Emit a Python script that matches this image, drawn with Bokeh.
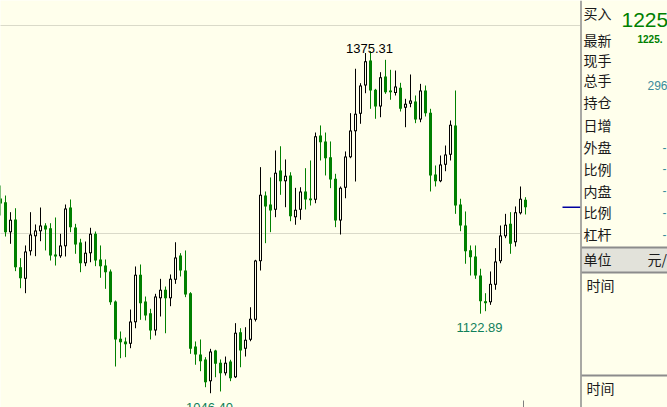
from bokeh.plotting import figure
from bokeh.models import Range1d, ColumnDataSource
from bokeh.embed import file_html
from bokeh.resources import INLINE
from bokeh.core.properties import value

# ---------------- data ----------------
opens = [1233.7, 1230.1, 1201.3, 1213.5, 1167.6, 1156.4, 1183.0, 1197.4, 1202.2, 1207.7,
         1205.1, 1179.8, 1178.2, 1187.8, 1225.0, 1205.8, 1191.3, 1171.4, 1181.1, 1199.7,
         1175.0, 1169.2, 1163.5, 1134.6, 1098.8, 1096.2, 1093.9, 1114.7, 1160.3, 1134.6,
         1123.4, 1106.7, 1137.8, 1145.9, 1137.8, 1155.5, 1178.9, 1164.4, 1142.6, 1091.4,
         1083.7, 1078.9, 1058.0, 1087.5, 1075.7, 1065.7, 1076.9, 1061.8, 1105.1, 1089.1,
         1097.8, 1117.0, 1173.4, 1236.5, 1227.9, 1222.8, 1260.6, 1250.3, 1255.8, 1215.7,
         1222.8, 1240.4, 1233.7, 1232.4, 1294.2, 1288.5, 1273.4, 1252.6, 1212.5, 1243.9,
         1273.4, 1298.4, 1315.1, 1342.3, 1366.3, 1338.2, 1322.1, 1351.0, 1337.5, 1335.1,
         1340.1, 1320.9, 1324.7, 1326.9, 1309.6, 1337.5, 1316.1, 1256.7, 1250.3, 1266.1,
         1275.7, 1303.9, 1227.9, 1207.7, 1184.0, 1177.9, 1159.6, 1134.9, 1133.9, 1150.7,
         1173.4, 1197.4, 1209.3, 1191.6, 1219.5, 1232.4]
highs = [1246.2, 1236.5, 1220.5, 1224.3, 1176.3, 1188.5, 1220.5, 1208.7, 1225.0, 1209.9,
         1209.9, 1215.4, 1199.7, 1227.9, 1232.7, 1209.3, 1194.9, 1192.3, 1205.5, 1201.9,
         1188.5, 1175.0, 1165.4, 1135.6, 1105.8, 1100.0, 1126.9, 1168.3, 1170.2, 1139.4,
         1127.6, 1142.0, 1156.4, 1149.0, 1160.6, 1191.6, 1181.1, 1183.7, 1143.6, 1096.2,
         1098.1, 1081.1, 1089.1, 1088.2, 1078.9, 1081.7, 1078.6, 1113.8, 1108.9, 1109.9,
         1129.1, 1174.7, 1263.8, 1240.4, 1253.9, 1279.8, 1283.9, 1271.2, 1258.9, 1243.9,
         1244.5, 1262.8, 1270.2, 1297.1, 1303.9, 1297.1, 1288.5, 1257.4, 1245.2, 1278.9,
         1315.7, 1358.4, 1344.5, 1373.5, 1375.31, 1339.1, 1355.1, 1367.0, 1357.4, 1356.7,
         1344.9, 1329.5, 1352.9, 1332.7, 1343.9, 1342.3, 1319.9, 1265.4, 1275.0, 1284.6,
         1308.7, 1337.5, 1233.4, 1221.2, 1188.5, 1188.5, 1166.1, 1142.6, 1163.5, 1185.9,
         1207.7, 1218.9, 1220.5, 1226.0, 1245.2, 1234.9]
lows = [1217.3, 1197.1, 1190.1, 1163.8, 1147.4, 1142.6, 1178.9, 1178.2, 1192.6, 1183.7,
        1174.0, 1169.2, 1176.6, 1177.9, 1201.3, 1180.5, 1162.8, 1168.6, 1172.4, 1168.6,
        1157.4, 1146.8, 1131.4, 1072.1, 1080.1, 1081.1, 1089.7, 1108.9, 1117.0, 1116.4,
        1098.1, 1101.9, 1120.2, 1104.1, 1130.1, 1151.6, 1158.7, 1138.8, 1084.3, 1073.8,
        1067.6, 1052.2, 1046.40, 1061.8, 1048.1, 1063.5, 1058.0, 1061.0, 1071.4, 1081.7,
        1096.4, 1115.4, 1164.4, 1190.7, 1201.3, 1215.7, 1237.2, 1225.3, 1211.8, 1208.4,
        1213.2, 1223.1, 1226.9, 1229.1, 1270.2, 1255.8, 1243.6, 1206.1, 1199.0, 1233.9,
        1272.4, 1250.0, 1305.5, 1334.9, 1319.9, 1310.3, 1311.8, 1334.3, 1328.6, 1332.7,
        1317.3, 1302.2, 1321.4, 1306.1, 1307.0, 1312.5, 1240.4, 1245.2, 1249.3, 1259.9,
        1270.2, 1218.9, 1202.2, 1170.9, 1159.6, 1156.4, 1122.89, 1125.3, 1131.4, 1145.9,
        1171.4, 1195.5, 1180.5, 1187.5, 1218.3, 1218.3]
closes = [1228.9, 1201.3, 1213.2, 1167.6, 1157.0, 1182.7, 1199.0, 1202.9, 1207.7, 1203.9,
          1178.9, 1177.9, 1188.5, 1224.0, 1206.1, 1189.4, 1171.4, 1181.4, 1199.7, 1174.0,
          1168.6, 1162.8, 1133.9, 1098.1, 1095.5, 1093.6, 1115.4, 1160.3, 1133.0, 1121.2,
          1106.7, 1139.4, 1145.9, 1137.8, 1156.4, 1176.9, 1164.4, 1141.4, 1089.1, 1083.7,
          1077.2, 1057.0, 1086.5, 1074.7, 1065.7, 1075.7, 1060.9, 1104.5, 1087.5, 1097.8,
          1118.0, 1174.0, 1237.2, 1226.0, 1222.1, 1258.4, 1250.3, 1255.5, 1216.6, 1222.8,
          1240.4, 1232.7, 1232.0, 1293.6, 1287.8, 1272.4, 1251.9, 1212.5, 1243.9, 1274.0,
          1299.0, 1315.1, 1342.3, 1365.7, 1337.5, 1322.1, 1350.3, 1335.9, 1335.9, 1341.3,
          1319.9, 1324.7, 1327.9, 1309.6, 1337.5, 1315.7, 1255.8, 1250.3, 1266.4, 1276.0,
          1304.5, 1226.9, 1207.7, 1183.0, 1177.2, 1159.6, 1134.9, 1133.0, 1151.6, 1173.1,
          1198.1, 1208.4, 1190.1, 1220.5, 1233.4, 1225.3]
grid_levels = [1400, 1200]

panel_labels = ["买入", "最新", "现手", "总手", "持仓", "日增", "外盘", "比例", "内盘", "比例", "杠杆", "单位"]
dash_rows = ["外盘", "比例", "内盘", "比例", "杠杆"]
volume_text = "296"
unit_text = "元/"
time_label = "时间"
time_text = "09:57:38"

# ---------------- geometry ----------------
BG = "#FFFFEC"
GREEN = "#008000"
W, H = 667, 407
X_STEP = 5.0          # px per bar
PX_PER_PT = 1.04      # px per price unit
X_AT_0 = 0.0          # bar index at pixel x = 0
Y_AT_0 = 1424.04      # price at pixel y = 0
ONE_PX = 1.0 / PX_PER_PT


def X(px):
    return X_AT_0 + px / X_STEP


def Y(py):
    return Y_AT_0 - py / PX_PER_PT


p = figure(width=W, height=H, output_backend="svg", toolbar_location=None,
           x_range=Range1d(X(0), X(W)), y_range=Range1d(Y(H), Y(0)),
           x_axis_location=None, y_axis_location=None, min_border=0,
           background_fill_color=BG, border_fill_color=BG, outline_line_color=None)
p.grid.visible = False

# dotted grid lines
p.segment(x0=[X(0)] * len(grid_levels), x1=[X(580)] * len(grid_levels),
          y0=grid_levels, y1=grid_levels, line_color="#b4b4a6", line_dash="1 1", line_width=1)

idx = list(range(len(opens)))
up = dict(x=[], top=[], bottom=[], itop=[], ibottom=[], high=[], low=[])
dn = dict(x=[], top=[], bottom=[], high=[], low=[])
for i, o, h, l, c in zip(idx, opens, highs, lows, closes):
    hi_b, lo_b = max(o, c), min(o, c)
    if c >= o:
        up["x"].append(i)
        up["top"].append(hi_b)
        up["bottom"].append(lo_b)
        inner_t, inner_b = hi_b - ONE_PX, lo_b + ONE_PX
        if inner_t < inner_b:
            inner_t = inner_b = (hi_b + lo_b) / 2
        up["itop"].append(inner_t)
        up["ibottom"].append(inner_b)
        up["high"].append(h)
        up["low"].append(l)
    else:
        dn["x"].append(i)
        dn["top"].append(hi_b)
        dn["bottom"].append(lo_b)
        dn["high"].append(h)
        dn["low"].append(l)
su = ColumnDataSource(up)
sd = ColumnDataSource(dn)

# rising bars: black wick + hollow body (outer black, inner background)
p.segment(x0="x", y0="high", x1="x", y1="low", source=su, line_color="black", line_width=1)
p.vbar(x="x", width=0.6, top="top", bottom="bottom", source=su, fill_color="black", line_color=None)
p.vbar(x="x", width=0.2, top="itop", bottom="ibottom", source=su, fill_color=BG, line_color=None)
# falling bars: green filled
p.segment(x0="x", y0="high", x1="x", y1="low", source=sd, line_color=GREEN, line_width=1)
p.vbar(x="x", width=0.6, top="top", bottom="bottom", source=sd, fill_color=GREEN, line_color=None)

# extreme labels
imax = max(idx, key=lambda k: highs[k])
imin = min(idx, key=lambda k: lows[k])
imin2 = min(idx[imax:], key=lambda k: lows[k])
lbl_font = value("Liberation Sans")
p.text(x=[imax], y=[highs[imax]], text=[f"{highs[imax]:.2f}"], text_align="center",
       text_baseline="alphabetic", x_offset=-1, y_offset=-3, text_font=lbl_font,
       text_font_size="13px", text_color="black")
p.text(x=[imin], y=[lows[imin]], text=[f"{lows[imin]:.2f}"], text_align="center",
       text_baseline="alphabetic", x_offset=-1, y_offset=14, text_font=lbl_font,
       text_font_size="13px", text_color="#10805A")
p.text(x=[imin2], y=[lows[imin2]], text=[f"{lows[imin2]:.2f}"], text_align="center",
       text_baseline="alphabetic", x_offset=-1, y_offset=14, text_font=lbl_font,
       text_font_size="13px", text_color="#10805A")

# last price marker
p.segment(x0=[X(562)], x1=[X(580)], y0=[closes[-1]], y1=[closes[-1]],
          line_color="#0000A0", line_width=1.5)
# time tick at bottom
p.segment(x0=[X(523)], x1=[X(523)], y0=[Y(400)], y1=[Y(410)], line_color="#808080", line_width=1)

# ---------------- right panel ----------------
p.quad(left=[X(581)], right=[X(670)], top=[Y(0)], bottom=[Y(410)], fill_color=BG, line_color=None)
p.quad(left=[X(581)], right=[X(670)], top=[Y(247.5)], bottom=[Y(271.5)],
       fill_color="#E2E2DA", line_color=None)
for yy in [247, 272, 375]:
    p.segment(x0=[X(581)], x1=[X(670)], y0=[Y(yy)], y1=[Y(yy)], line_color="#8C8C8C", line_width=2)
p.segment(x0=[X(580.5)], x1=[X(580.5)], y0=[Y(0)], y1=[Y(410)], line_color="#8C8C8C", line_width=1.5)

row_y = [12, 39, 59, 79.5, 101.5, 124, 146.7, 168.3, 190, 211.7, 233.7, 258.7]
cjk = value("Noto Sans CJK SC")
p.text(x=[X(583)] * len(panel_labels), y=[Y(v) for v in row_y], text=panel_labels,
       text_baseline="middle", text_font=cjk, text_font_size="14px", text_color="#1a1a1a")
p.text(x=[X(586), X(586)], y=[Y(284.3), Y(387)], text=[time_label, time_label],
       text_baseline="middle", text_font=cjk, text_font_size="14px", text_color="#1a1a1a")
p.text(x=[X(647)], y=[Y(258.7)], text=[unit_text], text_baseline="middle",
       text_font=cjk, text_font_size="14px", text_color="#1a1a1a")

last_txt = f"{int(closes[-1])}."
p.text(x=[X(621)], y=[Y(19)], text=[last_txt], text_baseline="alphabetic",
       text_font=lbl_font, text_font_size="21px", text_color=GREEN)
p.text(x=[X(637)], y=[Y(38)], text=[last_txt], text_baseline="alphabetic",
       text_font=lbl_font, text_font_size="10px", text_font_style="bold", text_color=GREEN)
p.text(x=[X(647)], y=[Y(85)], text=[volume_text], text_baseline="alphabetic",
       text_font=lbl_font, text_font_size="12px", text_color="#3a8a9a")
dash_y = row_y[6:11]
p.text(x=[X(662)] * len(dash_rows), y=[Y(v) for v in dash_y], text=["-"] * len(dash_rows),
       text_baseline="middle", text_font=lbl_font, text_font_size="12px", text_color="#3a8a9a")
p.text(x=[X(586)], y=[Y(412)], text=[time_text], text_baseline="alphabetic",
       text_font=lbl_font, text_font_size="13px", text_color="#1a1a60")

open("out.html", "w").write(file_html(p, INLINE))
